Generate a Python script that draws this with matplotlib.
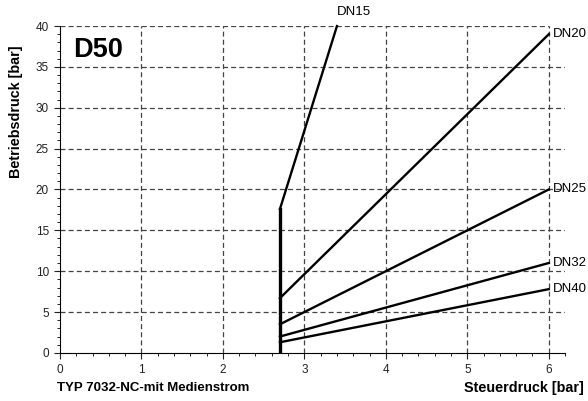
import numpy as np
import matplotlib.pyplot as plt
from matplotlib.ticker import MultipleLocator

plt.rcParams['font.family'] = ['Liberation Sans', 'DejaVu Sans']

# start of the curves (vertical line at x0) and end points
x0 = 2.7
names = ["DN15", "DN20", "DN25", "DN32", "DN40"]
y_start = [17.6, 6.7, 3.5, 2.0, 1.3]
x_end = [3.40, 6.0, 6.0, 6.0, 6.0]
y_end = [40.0, 39.0, 20.0, 11.0, 7.8]

fig = plt.figure(figsize=(5.88, 4.01), dpi=100)
ax = fig.add_axes([0.102, 0.12, 0.859, 0.815])

ax.set_xlim(0, 6.2)
ax.set_ylim(0, 40)
ax.xaxis.set_major_locator(MultipleLocator(1))
ax.xaxis.set_minor_locator(MultipleLocator(0.2))
ax.yaxis.set_major_locator(MultipleLocator(5))
ax.yaxis.set_minor_locator(MultipleLocator(1))
ax.tick_params(which='major', length=4, labelsize=8.5, colors='#222222', pad=4)
ax.tick_params(which='minor', length=2)
ax.spines['top'].set_visible(False)
ax.spines['right'].set_visible(False)

# dashed grid
for xv in range(1, 7):
    ax.plot([xv, xv], [0, 40], ls=(0, (4, 2.5)), color='#444444', lw=0.9, zorder=1)
for yv in range(5, 40, 5):
    ax.plot([0, 6.2], [yv, yv], ls=(0, (4, 2.5)), color='#444444', lw=0.9, zorder=1)
ax.plot([0, 6], [40, 40], ls=(0, (4, 2.5)), color='#444444', lw=0.9, zorder=1)

ax.plot([x0, x0], [0, y_start[0]], color='black', lw=2.4, zorder=3)
for n, ys, xe, ye in zip(names, y_start, x_end, y_end):
    ax.plot([x0, xe], [ys, ye], color='black', lw=1.7, zorder=3, clip_on=False)
    if n == "DN15":
        ax.text(xe, ye + 1.7, n, ha='left', va='center', fontsize=9.5)
    else:
        ax.text(xe + 0.05, ye, n, ha='left', va='center', fontsize=9.5)

ax.text(0.16, 37.1, "D50", fontsize=19.5, fontweight='bold', ha='left', va='center')

ax.set_ylabel("Betriebsdruck [bar]", fontsize=10.4, fontweight='bold')
ax.yaxis.set_label_coords(-0.074, 0.737)
fig.text(0.993, 0.032, "Steuerdruck [bar]", fontsize=10.4, fontweight='bold', ha='right', va='center')
fig.text(0.097, 0.032, "TYP 7032-NC-mit Medienstrom", fontsize=9.5, fontweight='bold', ha='left', va='center')

fig.savefig("out.png", dpi=100)
